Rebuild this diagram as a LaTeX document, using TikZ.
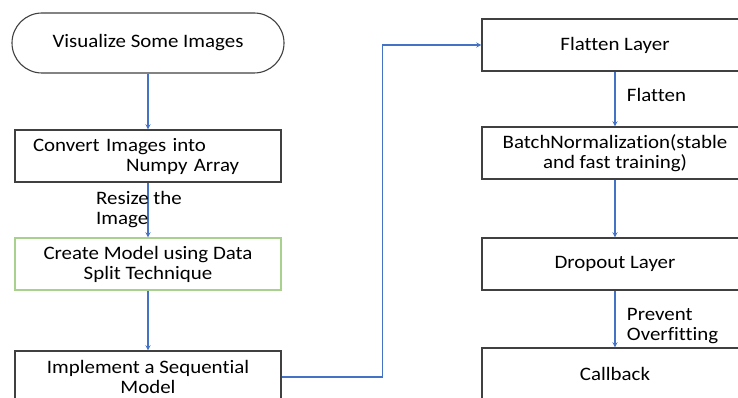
\documentclass[tikz,border=0pt]{standalone}
\usepackage{fontspec}
\setmainfont{Carlito}[FakeStretch=1.1, Ligatures=NoCommon]
\definecolor{lineblue}{HTML}{4472C4}
\definecolor{boxgreen}{HTML}{A9D18E}
\definecolor{boxgray}{HTML}{404040}
\tikzset{
  stepbox/.style={rectangle, draw=boxgray, line width=1.1pt, minimum width=266pt, minimum height=52pt, inner sep=0pt},
  flow/.style={->, >=stealth, draw=lineblue, line width=1.3pt}
}
\begin{document}
\begin{tikzpicture}[x=1pt, y=1pt, node distance=110pt, font=\fontsize{19}{20}\selectfont]
  \clip (0,0) rectangle (738,-398);
  \node[stepbox, rounded corners=30pt, minimum width=272pt, minimum height=60pt] (V) at (148,-43) {Visualize Some Images};
  \node[stepbox, below of=V, node distance=113pt, text width=230pt, align=left] (C) {Convert Images into\\\hspace*{93pt}Numpy Array};
  \node[stepbox, draw=boxgreen, below of=C, node distance=108pt, align=center] (M) {Create Model using Data\\Split Technique};
  \node[stepbox, below of=M, node distance=113pt, align=center] (S) {Implement a Sequential\\Model};

  \node[stepbox] (F) at (615,-45) {Flatten Layer};
  \node[stepbox, below of=F, node distance=108pt, align=center] (B) {BatchNormalization(stable\\and fast training)};
  \node[stepbox, below of=B, node distance=111pt] (D) {Dropout Layer};
  \node[stepbox, below of=D, node distance=110pt] (K) {Callback};

  \draw[flow] (V) -- (C);
  \draw[flow] (C) -- node[xshift=-9pt, align=left] {Resize the\\Image} (M);
  \draw[flow] (M) -- (S);
  \draw[flow] (S.east) -- ++(101,0) |- (F.west);
  \draw[flow] (F) -- node[right=8pt, yshift=4pt] {Flatten} (B);
  \draw[flow] (B) -- (D);
  \draw[flow] (D) -- node[right=8pt, yshift=-7pt, align=left] {Prevent\\Overfitting} (K);
\end{tikzpicture}
\end{document}
